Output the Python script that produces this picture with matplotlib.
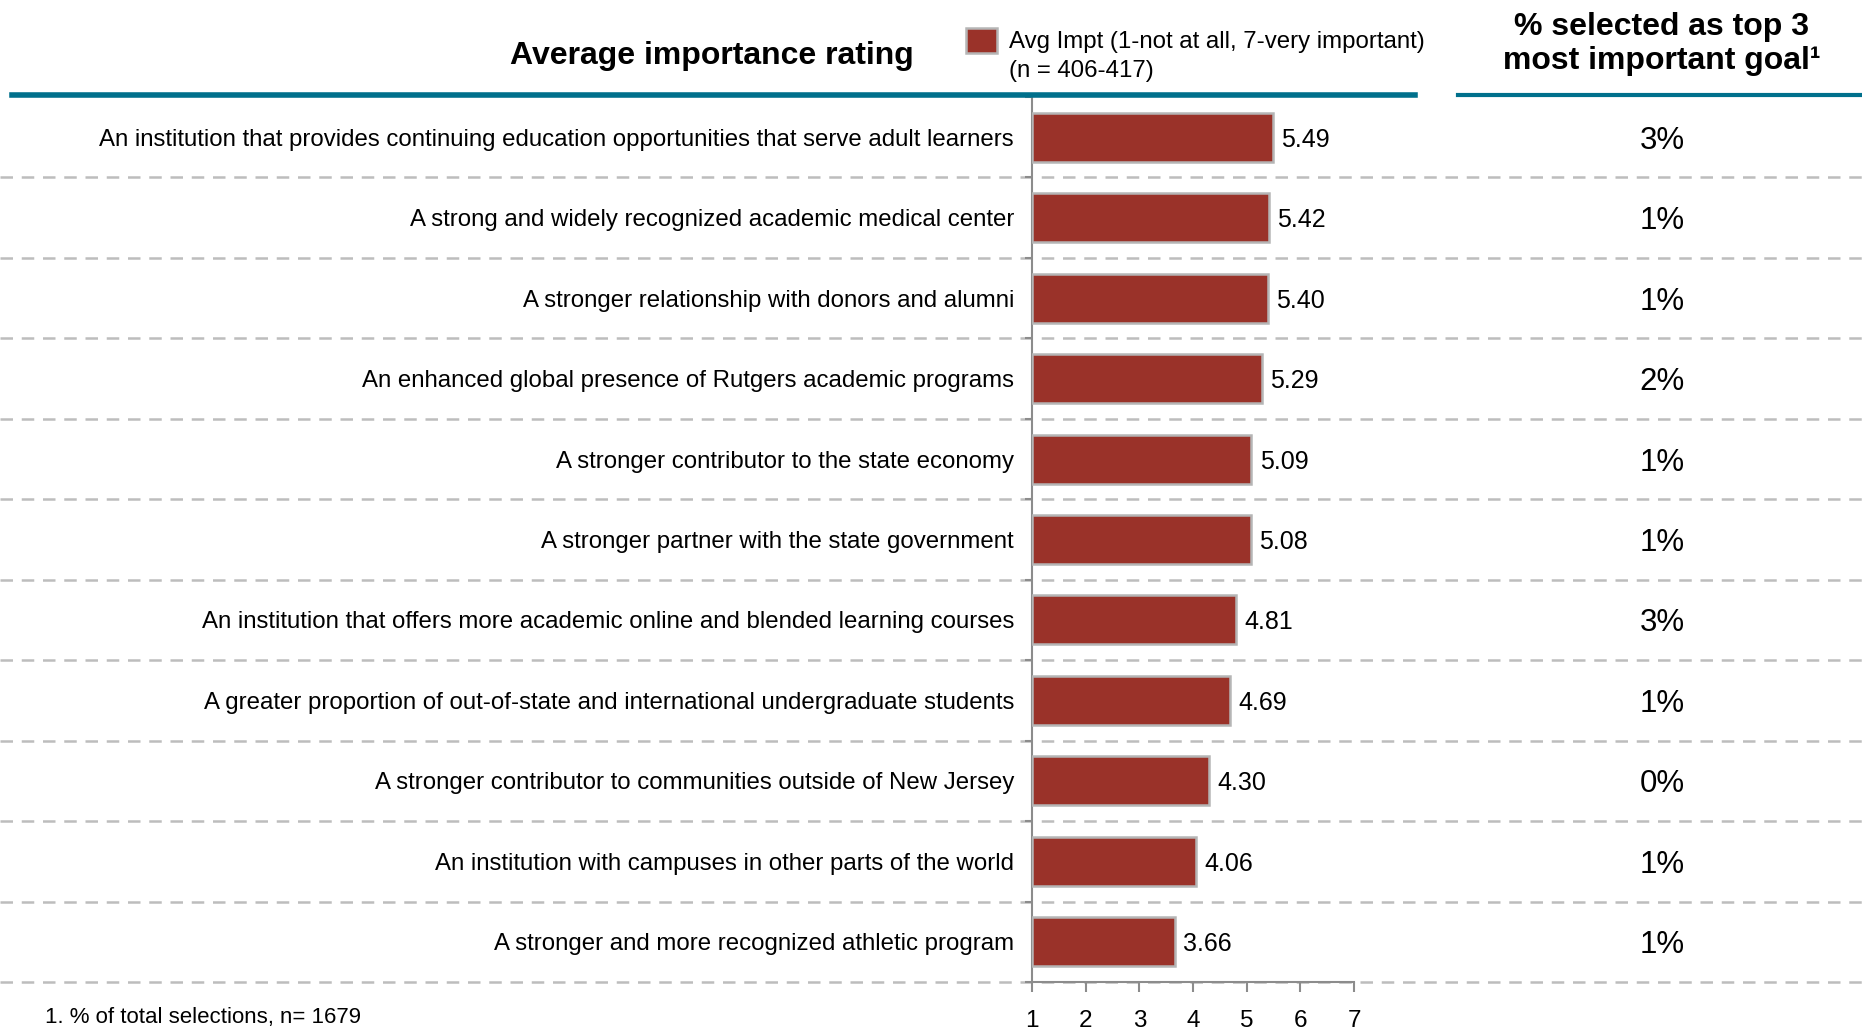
import matplotlib
matplotlib.use('Agg')
import matplotlib.pyplot as plt
from matplotlib.transforms import blended_transform_factory

plt.rcParams['font.family'] = ['Liberation Sans', 'DejaVu Sans']

goals = [
    'An institution that provides continuing education opportunities that serve adult learners',
    'A strong and widely recognized academic medical center',
    'A stronger relationship with donors and alumni',
    'An enhanced global presence of Rutgers academic programs',
    'A stronger contributor to the state economy',
    'A stronger partner with the state government',
    'An institution that offers more academic online and blended learning courses',
    'A greater proportion of out-of-state and international undergraduate students',
    'A stronger contributor to communities outside of New Jersey',
    'An institution with campuses in other parts of the world',
    'A stronger and more recognized athletic program',
]
avg_impt = [5.49, 5.42, 5.40, 5.29, 5.09, 5.08, 4.81, 4.69, 4.30, 4.06, 3.66]
top3_pct = ['3%', '1%', '1%', '2%', '1%', '1%', '3%', '1%', '0%', '1%', '1%']
x_ticks = [1, 2, 3, 4, 5, 6, 7]

bar_color = '#9A3229'
teal = '#00708C'
grid_gray = '#BDBDBD'
axis_gray = '#8C8C8C'

fig = plt.figure(figsize=(18.62, 10.30), dpi=100)
ax = fig.add_axes([1032 / 1862, 1 - 982 / 1030, 322 / 1862, 885 / 1030])

ypos = list(range(len(goals)))
ax.barh(ypos, [v - 1 for v in avg_impt], left=1, height=0.61,
        color=bar_color, edgecolor='#B5B5B5', linewidth=1.8, zorder=3)
for y, v in zip(ypos, avg_impt):
    ax.text(v + 0.15, y, f'{v:.2f}', va='center_baseline', ha='left', fontsize=18)

ax.set_xlim(1, 7)
ax.set_ylim(len(goals) - 0.5, -0.5)
ax.set_xticks(x_ticks)
ax.set_xticklabels([str(t) for t in x_ticks], fontsize=17.5)
ax.set_yticks(ypos)
ax.set_yticklabels(goals, fontsize=17.3)
ax.set_yticks([y + 0.5 for y in range(-1, len(goals))], minor=True)
ax.tick_params(axis='y', which='major', length=0, pad=13)
ax.tick_params(axis='y', which='minor', length=5, width=1.5, color=axis_gray)
ax.tick_params(axis='x', length=7, width=1.5, color=axis_gray, pad=13)
for s in ['top', 'right']:
    ax.spines[s].set_visible(False)
for s in ['left', 'bottom']:
    ax.spines[s].set_color(axis_gray)
    ax.spines[s].set_linewidth(1.5)

# dashed row separators across the whole figure
tr = blended_transform_factory(fig.transFigure, ax.transData)
for y in range(len(goals)):
    ax.plot([0, 1], [y + 0.5, y + 0.5], transform=tr, color=grid_gray,
            linestyle=(0, (5, 3.5)), linewidth=1.8, clip_on=False, zorder=1)

# right column
for y, p in zip(ypos, top3_pct):
    ax.text(1662 / 1862, y, p, transform=tr, ha='center', va='center_baseline',
            fontsize=22.5)

# headers
fig.add_artist(plt.Line2D([12 / 1862, 1415 / 1862], [1 - 95 / 1030] * 2,
                          color=teal, linewidth=4))
fig.add_artist(plt.Line2D([1458 / 1862, 1], [1 - 95 / 1030] * 2,
                          color=teal, linewidth=3))
fig.text(712 / 1862, 1 - 56 / 1030, 'Average importance rating', ha='center',
         va='center', fontsize=23, fontweight='bold')
fig.text(1662 / 1862, 1 - 44 / 1030, '% selected as top 3\nmost important goal\u00b9',
         ha='center', va='center', fontsize=23, fontweight='bold', linespacing=1.15)

# legend
fig.add_artist(plt.Rectangle((966 / 1862, 1 - 53 / 1030), 31 / 1862, 25 / 1030,
                             facecolor=bar_color, edgecolor='#B5B5B5', linewidth=1.8))
fig.text(1009 / 1862, 1 - 42 / 1030, 'Avg Impt (1-not at all, 7-very important)',
         ha='left', va='center', fontsize=17.3)
fig.text(1009 / 1862, 1 - 71 / 1030, '(n = 406-417)', ha='left', va='center', fontsize=17.3)

fig.text(45 / 1862, 1 - 1017 / 1030, '1. % of total selections, n= 1679',
         ha='left', va='center', fontsize=16)

fig.savefig('out.png', dpi=100)
